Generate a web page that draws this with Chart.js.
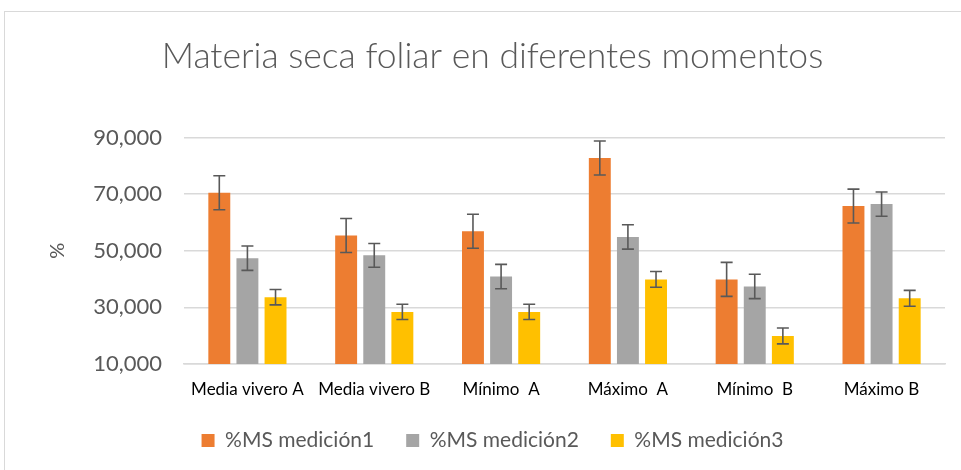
<!DOCTYPE html>
<html>
<head>
<meta charset="utf-8">
<script src="https://cdn.jsdelivr.net/npm/chart.js@4/dist/chart.umd.min.js"></script>
<style>
  body { margin: 0; background: #fff; }
  #wrap { position: relative; width: 961px; height: 470px; overflow: hidden; }
  #frame { position: absolute; left: 4px; top: 11px; width: 1100px; height: 600px; border: 1px solid #d9d9d9; }
  canvas { position: absolute; left: 0; top: 0; }
</style>
</head>
<body>
<div id="wrap">
  <div id="frame"></div>
  <canvas id="myChart" width="985" height="470"></canvas>
</div>
<script>
const labels = ["Media vivero A", "Media vivero B", "Mínimo  A", "Máximo  A", "Mínimo  B", "Máximo B"]

const medicion1 = [70.5, 55.4, 56.9, 82.8, 39.9, 65.8]
const medicion2 = [47.4, 48.4, 40.9, 54.9, 37.4, 66.5]
const medicion3 = [33.6, 28.4, 28.4, 39.9, 19.9, 33.2]

const error1 = [6.0, 6.0, 6.0, 6.0, 6.0, 6.0]
const error2 = [4.3, 4.2, 4.3, 4.3, 4.3, 4.3]
const error3 = [2.7, 2.7, 2.7, 2.8, 2.8, 2.8]

const yTicks = [10, 30, 50, 70, 90]

const ctx = document.getElementById("myChart").getContext("2d")
const font = "Lato, 'Open Sans', sans-serif"

// draws the error bars on top of each bar
const errorBars = {
  id: "errorBars",
  afterDatasetsDraw(chart) {
    const y = chart.scales.y
    const c = chart.ctx
    c.save()
    c.strokeStyle = "#595959"
    c.lineWidth = 1.6
    chart.data.datasets.forEach((ds, i) => {
      const meta = chart.getDatasetMeta(i)
      meta.data.forEach((bar, j) => {
        const v = ds.data[j]
        const e = ds.errors[j]
        const top = y.getPixelForValue(v + e)
        const bot = y.getPixelForValue(v - e)
        c.beginPath()
        c.moveTo(bar.x, top); c.lineTo(bar.x, bot)
        c.moveTo(bar.x - 6, top); c.lineTo(bar.x + 6, top)
        c.moveTo(bar.x - 6, bot); c.lineTo(bar.x + 6, bot)
        c.stroke()
      })
    })
    c.restore()
  },
}

const data = {
  labels,
  datasets: [
    { label: "%MS medición1", data: medicion1, errors: error1, backgroundColor: "#ED7D31" },
    { label: "%MS medición2", data: medicion2, errors: error2, backgroundColor: "#A5A5A5" },
    { label: "%MS medición3", data: medicion3, errors: error3, backgroundColor: "#FFC000" },
  ],
}

const config = {
  type: "bar",
  data: data,
  plugins: [errorBars],
  options: {
    responsive: false,
    animation: false,
    layout: { padding: { left: 0, right: 0, top: 0, bottom: 9 } },
    datasets: { bar: { categoryPercentage: 0.665, barPercentage: 0.78 } },
    plugins: {
      title: {
        display: true,
        text: "Materia seca foliar en diferentes momentos",
        color: "#595959",
        font: { family: font, size: 35.5, weight: "300" },
        padding: { top: 35, bottom: 60 },
      },
      legend: {
        position: "bottom",
        labels: {
          color: "#595959",
          font: { family: font, size: 21 },
          boxWidth: 13,
          boxHeight: 13,
          padding: 32,
        },
      },
      tooltip: { enabled: false },
    },
    scales: {
      x: {
        grid: { display: false },
        border: { display: true, color: "#d9d9d9", width: 1.5 },
        ticks: { color: "#000", font: { family: font, size: 17 }, padding: 7, maxRotation: 0 },
        afterFit(scale) { scale.height = 34 },
      },
      y: {
        min: 10,
        max: 90,
        afterBuildTicks(scale) { scale.ticks = yTicks.map(v => ({ value: v })) },
        grid: { color: "#d9d9d9", lineWidth: 1.5, drawTicks: false },
        border: { display: false },
        ticks: {
          color: "#595959",
          font: { family: font, size: 22 },
          padding: 22,
          callback: v => v.toFixed(3).replace(".", ","),
        },
        title: {
          display: true,
          text: "%",
          color: "#595959",
          font: { family: font, size: 20 },
          padding: { top: 46, bottom: 0 },
        },
        afterFit(scale) { scale.width = 184 },
      },
      // empty strip on the right, keeps the plot inside the visible window
      right: {
        position: "right",
        grid: { display: false },
        border: { display: false },
        ticks: { display: false },
        afterFit(scale) { scale.width = 40 },
      },
    },
  },
}

const myChart = new Chart(ctx, config)
</script>
</body>
</html>
